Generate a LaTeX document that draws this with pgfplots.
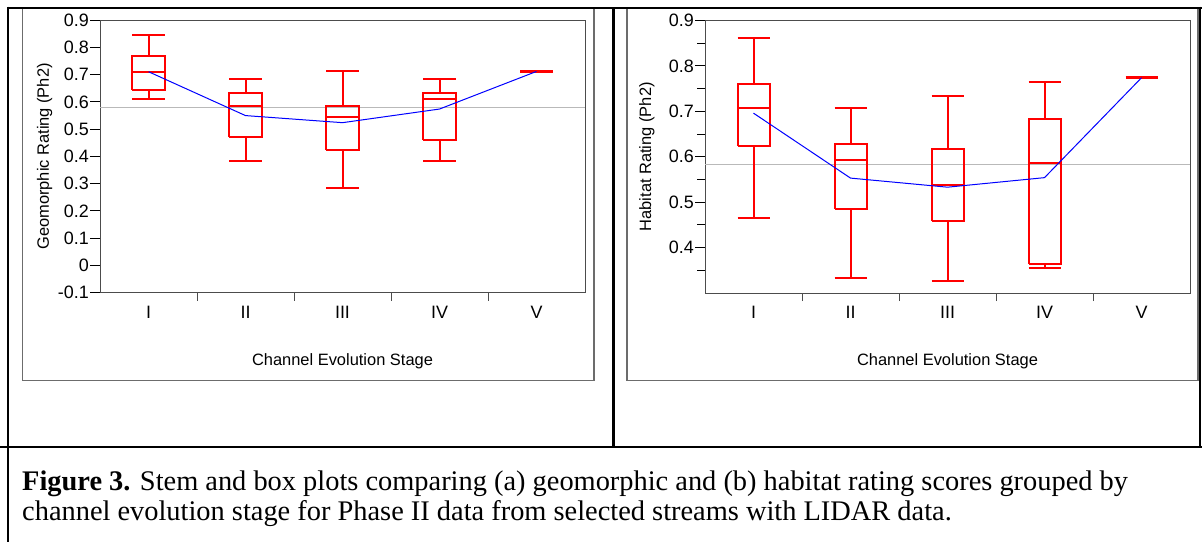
\documentclass[border=0pt]{standalone}
\usepackage{fontspec}
\setmainfont{Liberation Serif}
\newfontfamily\arial{Liberation Sans}
\usepackage{pgfplots}
\pgfplotsset{compat=1.18}

\pgfplotsset{
  stageaxis/.style={
    scale only axis,
    width=485bp, height=272.5bp,
    xmin=0.5, xmax=5.5,
    xtick={1,2,3,4,5},
    xticklabels={I,II,III,IV,V},
    minor xtick={1.5,2.5,3.5,4.5},
    xtick pos=bottom, ytick pos=left,
    tick align=outside,
    major tick length=10bp,
    minor tick length=8bp,
    major x tick style={draw=none},
    minor x tick style={draw=black!70, line width=1bp},
    ytick style={draw=black, line width=1bp},
    axis line style={draw=black!70, line width=1bp},
    font=\arial\fontsize{16.5}{19}\selectfont,
    tick label style={font=\arial\fontsize{18}{21}\selectfont},
    yticklabel style={inner sep=1bp},
    xticklabel style={inner sep=3bp},
    xlabel={Channel Evolution Stage},
    xlabel style={at={(axis description cs:0.5,-0.25)}, anchor=center},
    unbounded coords=jump,
  },
  bx/.style={color=red, line width=2bp, no markers},
  meanline/.style={blue, line width=1bp, no markers},
  refline/.style={gray!55, line width=1bp, no markers},
}

\begin{document}
\begin{tikzpicture}
\path[use as bounding box] (0,0) rectangle (1202bp,-542bp);

\begin{scope}[x=1bp,y=-1bp]
  % panel frames
  \draw[gray!85!black, line width=1.3bp] (22.5,8) -- (22.5,380.5) -- (594,380.5) -- (594,8);
  \draw[gray!85!black, line width=1.3bp] (627,8) -- (627,380.5) -- (1198,380.5) -- (1198,8);
  % table rules
  \draw[black, line width=2.5bp] (8,8) -- (1202,8);
  \draw[black, line width=2.5bp] (8,6.75) -- (8,542);
  \draw[black, line width=2.5bp] (613.5,8) -- (613.5,447);
  \draw[black, line width=2.5bp] (1200,6.75) -- (1200,447);
  \draw[black, line width=2.5bp] (0,447) -- (1202,447);
  % caption
  \node[anchor=base west, inner sep=0pt, font=\fontsize{28.5}{32}\selectfont] at (22,490)
    {\textbf{Figure 3.} Stem and box plots comparing (a) geomorphic and (b) habitat rating scores grouped by};
  \node[anchor=base west, inner sep=0pt, font=\fontsize{28.5}{32}\selectfont] at (22,520)
    {channel evolution stage for Phase II data from selected streams with LIDAR data.};
\end{scope}

% (a) geomorphic
% box: q1, median, q3 ; whiskers: lower, upper ; box half width 0.165
\begin{axis}[stageaxis,
  at={(100bp,-292.7bp)}, anchor=south west,
  ymin=-0.1, ymax=0.9,
  ytick={-0.1,0,0.1,0.2,0.3,0.4,0.5,0.6,0.7,0.8,0.9},
  yticklabels={-0.1,0,0.1,0.2,0.3,0.4,0.5,0.6,0.7,0.8,0.9},
  ylabel={Geomorphic Rating (Ph2)},
  ylabel style={at={(axis description cs:-0.114,0.5)}, anchor=center},
]
\addplot[refline] coordinates {(0.5,0.578) (5.5,0.578)};
% I
\addplot[bx] coordinates {(0.835,0.644) (1.165,0.644) (1.165,0.767) (0.835,0.767) (0.835,0.644) (1,nan)
  (0.835,0.711) (1.165,0.711) (1,nan) (1,0.767) (1,0.846) (1,nan) (0.835,0.846) (1.165,0.846) (1,nan)
  (1,0.644) (1,0.611) (1,nan) (0.835,0.611) (1.165,0.611)};
% II
\addplot[bx] coordinates {(1.835,0.472) (2.165,0.472) (2.165,0.633) (1.835,0.633) (1.835,0.472) (2,nan)
  (1.835,0.584) (2.165,0.584) (2,nan) (2,0.633) (2,0.683) (2,nan) (1.835,0.683) (2.165,0.683) (2,nan)
  (2,0.472) (2,0.383) (2,nan) (1.835,0.383) (2.165,0.383)};
% III
\addplot[bx] coordinates {(2.835,0.422) (3.165,0.422) (3.165,0.584) (2.835,0.584) (2.835,0.422) (3,nan)
  (2.835,0.545) (3.165,0.545) (3,nan) (3,0.584) (3,0.712) (3,nan) (2.835,0.712) (3.165,0.712) (3,nan)
  (3,0.422) (3,0.284) (3,nan) (2.835,0.284) (3.165,0.284)};
% IV
\addplot[bx] coordinates {(3.835,0.461) (4.165,0.461) (4.165,0.633) (3.835,0.633) (3.835,0.461) (4,nan)
  (3.835,0.611) (4.165,0.611) (4,nan) (4,0.633) (4,0.683) (4,nan) (3.835,0.683) (4.165,0.683) (4,nan)
  (4,0.461) (4,0.383) (4,nan) (3.835,0.383) (4.165,0.383)};
% V (single value)
\addplot[bx, line width=2.6bp] coordinates {(4.835,0.712) (5.165,0.712)};
\addplot[meanline] coordinates {(1,0.711) (2,0.550) (3,0.524) (4,0.574) (5,0.712)};
\end{axis}

% (b) habitat
\begin{axis}[stageaxis,
  at={(705bp,-293bp)}, anchor=south west,
  ymin=0.3, ymax=0.9,
  ytick={0.4,0.5,0.6,0.7,0.8,0.9},
  yticklabels={0.4,0.5,0.6,0.7,0.8,0.9},
  minor ytick={0.35,0.45,0.55,0.65,0.75,0.85},
  minor y tick style={draw=black, line width=1bp},
  ylabel={Habitat Rating (Ph2)},
  ylabel style={at={(axis description cs:-0.12,0.5)}, anchor=center},
]
\addplot[refline] coordinates {(0.5,0.583) (5.5,0.583)};
% I
\addplot[bx] coordinates {(0.835,0.624) (1.165,0.624) (1.165,0.760) (0.835,0.760) (0.835,0.624) (1,nan)
  (0.835,0.707) (1.165,0.707) (1,nan) (1,0.760) (1,0.862) (1,nan) (0.835,0.862) (1.165,0.862) (1,nan)
  (1,0.624) (1,0.466) (1,nan) (0.835,0.466) (1.165,0.466)};
% II
\addplot[bx] coordinates {(1.835,0.484) (2.165,0.484) (2.165,0.627) (1.835,0.627) (1.835,0.484) (2,nan)
  (1.835,0.593) (2.165,0.593) (2,nan) (2,0.627) (2,0.707) (2,nan) (1.835,0.707) (2.165,0.707) (2,nan)
  (2,0.484) (2,0.334) (2,nan) (1.835,0.334) (2.165,0.334)};
% III
\addplot[bx] coordinates {(2.835,0.458) (3.165,0.458) (3.165,0.616) (2.835,0.616) (2.835,0.458) (3,nan)
  (2.835,0.537) (3.165,0.537) (3,nan) (3,0.616) (3,0.733) (3,nan) (2.835,0.733) (3.165,0.733) (3,nan)
  (3,0.458) (3,0.327) (3,nan) (2.835,0.327) (3.165,0.327)};
% IV
\addplot[bx] coordinates {(3.835,0.364) (4.165,0.364) (4.165,0.684) (3.835,0.684) (3.835,0.364) (4,nan)
  (3.835,0.587) (4.165,0.587) (4,nan) (4,0.684) (4,0.764) (4,nan) (3.835,0.764) (4.165,0.764) (4,nan)
  (4,0.364) (4,0.354) (4,nan) (3.835,0.354) (4.165,0.354)};
% V (single value)
\addplot[bx, line width=2.6bp] coordinates {(4.835,0.774) (5.165,0.774)};
\addplot[meanline] coordinates {(1,0.696) (2,0.553) (3,0.533) (4,0.554) (5,0.774)};
\end{axis}
\end{tikzpicture}
\end{document}
